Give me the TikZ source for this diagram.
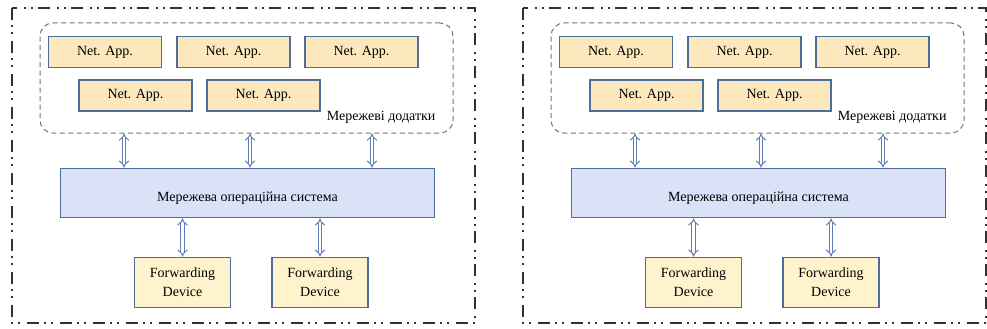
\documentclass[tikz,border=0pt]{standalone}
\usepackage{fontspec}
\setmainfont{Liberation Serif}
\usetikzlibrary{arrows.meta}
\definecolor{appfill}{RGB}{253,232,190}
\definecolor{osfill}{RGB}{217,226,246}
\definecolor{fdfill}{RGB}{255,243,206}
\definecolor{boxblue}{RGB}{78,108,158}
\definecolor{arrblue}{RGB}{95,125,180}
\definecolor{grpgray}{RGB}{110,118,132}
\definecolor{outer}{RGB}{50,50,50}
\tikzset{
  txt/.style={font=\fontsize{14}{19}\selectfont, text=black},
  appbox/.style={txt, draw=boxblue, line width=1.8pt, fill=appfill, minimum width=113pt, minimum height=31pt, inner sep=0pt},
  osbox/.style={txt, draw=boxblue, line width=1.8pt, fill=osfill, minimum width=374pt, minimum height=49pt, inner sep=0pt},
  fdbox/.style={txt, draw=boxblue, line width=1.8pt, fill=fdfill, minimum width=96pt, minimum height=50pt, inner sep=0pt, align=center},
  grpbox/.style={draw=grpgray, line width=1pt, dash pattern=on 5pt off 3.5pt, rounded corners=13pt},
  outerbox/.style={draw=outer, line width=2pt, dash pattern=on 12pt off 5pt on 2pt off 5pt on 2pt off 7pt},
  dbl/.style={draw=arrblue, line width=1pt, double=white, double distance=2.6pt, {Implies[length=4pt]}-{Implies[length=4pt]}},
}
\newcommand\drawpanel[2]{%
\begin{scope}[xshift=#2]
  \draw[outerbox] (12,8) rectangle (475,323);
  \node[grpbox, minimum width=413pt, minimum height=110pt, inner sep=0pt] (#1grp) at (246.5,78) {};
  \node[appbox] (#1a1) at (105,52) {Net. App.};
  \node[appbox] (#1a2) at (233.5,52) {Net. App.};
  \node[appbox] (#1a3) at (361.5,52) {Net. App.};
  \node[appbox] (#1a4) at (135.5,95.5) {Net. App.};
  \node[appbox] (#1a5) at (263.5,95.5) {Net. App.};
  \node[txt, anchor=east] (#1glab) at (439,117) {Мережеві додатки};
  \node[osbox] (#1os) at (247.5,193) {};
  \node[txt] (#1oslab) at (247.5,198) {Мережева операційна система};
  \node[fdbox] (#1fd1) at (182.5,282.5) {Forwarding\\Device};
  \node[fdbox] (#1fd2) at (320,282.5) {Forwarding\\Device};
  \coordinate (#1x1) at (124,0);
  \coordinate (#1x2) at (250,0);
  \coordinate (#1x3) at (372,0);
  \draw[dbl] (#1grp.south -| #1x1) -- (#1os.north -| #1x1);
  \draw[dbl] (#1grp.south -| #1x2) -- (#1os.north -| #1x2);
  \draw[dbl] (#1grp.south -| #1x3) -- (#1os.north -| #1x3);
  \draw[dbl] (#1os.south -| #1fd1.north) -- (#1fd1.north);
  \draw[dbl] (#1os.south -| #1fd2.north) -- (#1fd2.north);
\end{scope}}
\begin{document}
\begin{tikzpicture}[x=1pt,y=-1pt]
  \useasboundingbox (0,0) rectangle (987,329);
  \fill[white] (0,0) rectangle (987,329);
  \drawpanel{L}{0pt}
  \drawpanel{R}{511pt}
\end{tikzpicture}
\end{document}
